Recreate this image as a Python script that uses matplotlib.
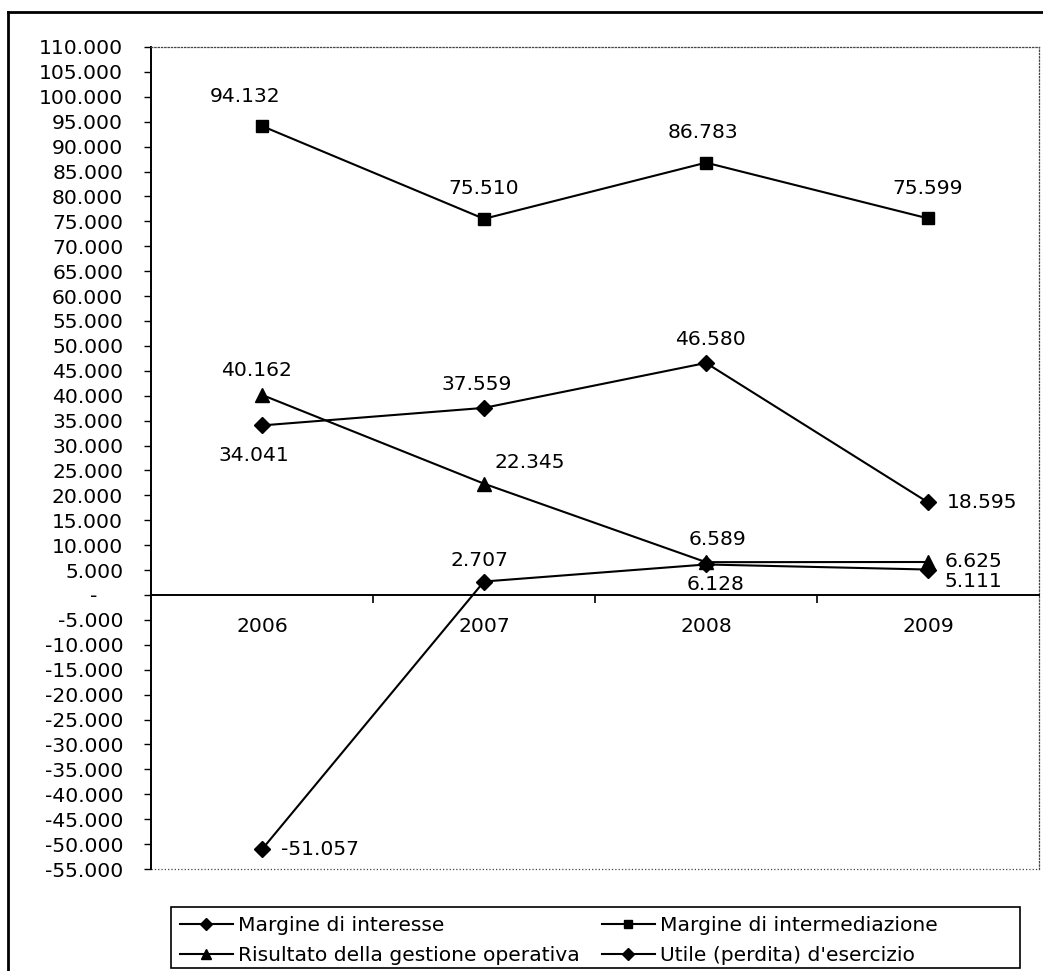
import matplotlib
matplotlib.use("Agg")
import matplotlib.pyplot as plt
from matplotlib.lines import Line2D
from matplotlib.patches import Rectangle
from matplotlib.ticker import FuncFormatter

years = ["2006", "2007", "2008", "2009"]
margine_interesse = [34041, 37559, 46580, 18595]
margine_intermediazione = [94132, 75510, 86783, 75599]
risultato_gestione = [40162, 22345, 6589, 6625]
utile_esercizio = [-51057, 2707, 6128, 5111]

names = ["Margine di interesse", "Margine di intermediazione",
         "Risultato della gestione operativa", "Utile (perdita) d'esercizio"]

# label offsets in pixels (dx, dy, horizontal alignment) for each point
off_interesse = [(-8, -30, "center"), (-7, 23, "center"), (4, 23, "center"), (19, 0, "left")]
off_intermed = [(-17, 30, "center"), (0, 30, "center"), (-3, 30, "center"), (0, 30, "center")]
off_risultato = [(-5, 24, "center"), (10, 21, "left"), (11, 23, "center"), (17, 0, "left")]
off_utile = [(19, 0, "left"), (-4, 21, "center"), (10, -20, "center"), (17, -12, "left")]

plt.rcParams["font.family"] = "DejaVu Sans"
W, H = 1043, 971
FS = 14.6


def fmt_it(v):
    '''Italian thousands separator, dash for zero'''
    if v == 0:
        return "-    "
    return f"{int(v):,}".replace(",", ".")


fig = plt.figure(figsize=(W / 100, H / 100), dpi=100)
ax = fig.add_axes([151 / W, 1 - 869 / H, (1039 - 151) / W, (869 - 47) / H])

x = [i + 0.5 for i in range(len(years))]
series = [
    (margine_interesse, "D", 8, off_interesse),
    (margine_intermediazione, "s", 8.5, off_intermed),
    (risultato_gestione, "^", 10, off_risultato),
    (utile_esercizio, "D", 8, off_utile),
]
lines = []
for (vals, mk, ms, offs), name in zip(series, names):
    ln, = ax.plot(x, vals, color="black", lw=1.5, marker=mk, ms=ms,
                  label=name, clip_on=False, zorder=3)
    lines.append(ln)
    for xi, v, (dx, dy, ha) in zip(x, vals, offs):
        ax.annotate(fmt_it(v), (xi, v), xytext=(dx, dy), textcoords="offset pixels",
                    ha=ha, va="center", fontsize=FS)

ax.set_xlim(0, 4)
ax.set_ylim(-55000, 110000)
ax.set_yticks(range(-55000, 110001, 5000))
ax.yaxis.set_major_formatter(FuncFormatter(lambda v, p: fmt_it(v)))
ax.tick_params(axis="y", direction="out", length=5, width=1, pad=15, labelsize=FS)

# category axis sits on the zero line
ax.spines["bottom"].set_position(("data", 0))
ax.spines["bottom"].set_linewidth(1.4)
ax.spines["left"].set_linewidth(1.4)
for s in ("top", "right"):
    ax.spines[s].set_linestyle(":")
    ax.spines[s].set_linewidth(0.9)
    ax.spines[s].set_color("#444444")
ax.plot([0, 1], [0, 0], transform=ax.transAxes, ls=":", lw=0.9,
        color="#444444", clip_on=False)

ax.set_xticks(x)
ax.set_xticklabels(years, fontsize=FS)
ax.set_xticks([1, 2, 3], minor=True)
ax.tick_params(axis="x", which="major", length=0, pad=16)
ax.tick_params(axis="x", which="minor", direction="out", length=6, width=1.2)

# legend with its own frame box
fig.add_artist(Rectangle((171 / W, 1 - 968 / H), (1020 - 171) / W, (968 - 907) / H,
                         transform=fig.transFigure, fill=False, edgecolor="black", lw=1.2))
fig.legend([lines[0], lines[2], lines[1], lines[3]],
           [names[0], names[2], names[1], names[3]],
           ncol=2, loc="upper left", bbox_to_anchor=(171 / W, 1 - 907 / H),
           frameon=False, fontsize=FS, handlelength=2.6, handletextpad=0.25,
           columnspacing=1.1, borderpad=0.45, borderaxespad=0, labelspacing=0.55,
           markerscale=0.75)

# outer chart border
fig.add_artist(Line2D([8 / W, 1], [1 - 12 / H] * 2, transform=fig.transFigure,
                      color="black", lw=2))
fig.add_artist(Line2D([8 / W] * 2, [0, 1 - 12 / H], transform=fig.transFigure,
                      color="black", lw=2))

fig.savefig("out.png", dpi=100)
